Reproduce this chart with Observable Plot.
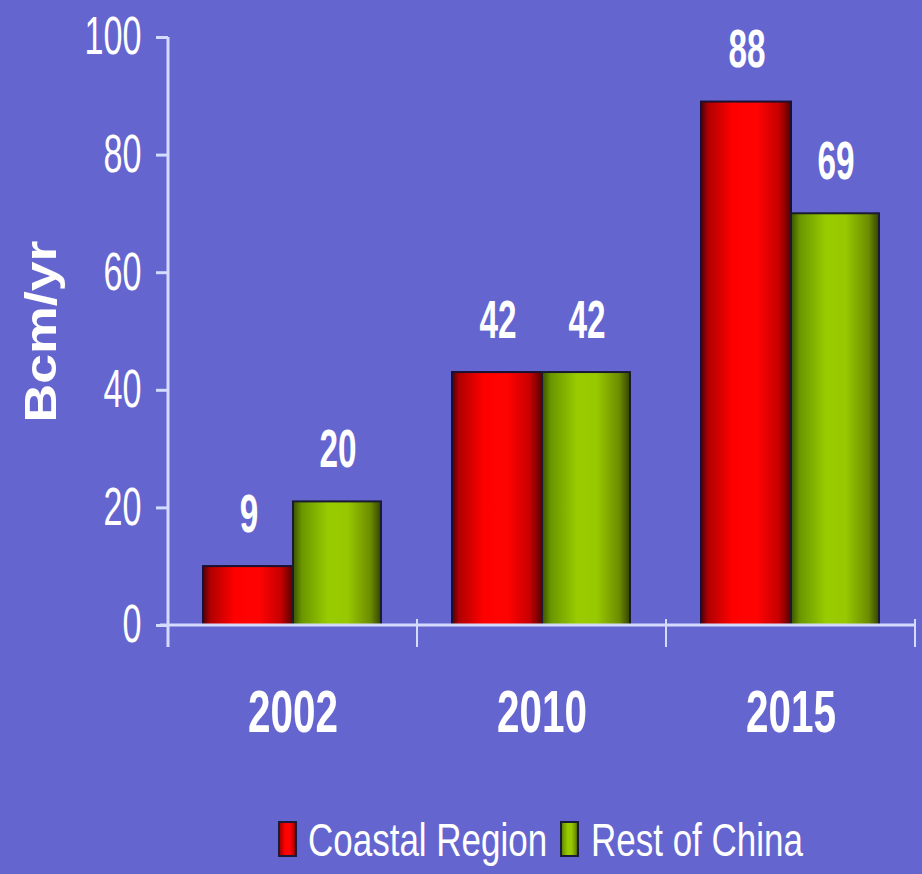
<!DOCTYPE html>
<html>
<head>
<meta charset="utf-8">
<script src="https://cdn.jsdelivr.net/npm/d3@7"></script>
<script src="https://cdn.jsdelivr.net/npm/@observablehq/plot@0.6"></script>
<style>
  html, body { margin: 0; padding: 0; background: #6565d0; }
  #chart { width: 922px; height: 874px; background: #6565d0; color: #ffffff; }
  svg { display: block; }
</style>
</head>
<body>
<div id="chart"></div>
<script>
const years = ["2002", "2010", "2015"];
const coastal = [9, 42, 88];
const restOfChina = [20, 42, 69];
const seriesNames = ["Coastal Region", "Rest of China"];
const yTicks = [0, 20, 40, 60, 80, 100];
const yLabel = "Bcm/yr";

const coastalData = years.map((y, i) => ({year: y, value: coastal[i]}));
const restData = years.map((y, i) => ({year: y, value: restOfChina[i]}));

const FONT = '"Liberation Sans", Arial, sans-serif';

function defsMark() {
  const defs = d3.create("svg:defs");
  const mk = (id, stops) => {
    const g = defs.append("linearGradient").attr("id", id).attr("x1", "0").attr("x2", "1").attr("y1", "0").attr("y2", "0");
    stops.forEach(([o, c]) => g.append("stop").attr("offset", o).attr("stop-color", c));
  };
  mk("gradRed", [["0%", "#4a0010"], ["8%", "#b00000"], ["35%", "#ff0000"], ["62%", "#ff0303"], ["86%", "#c80000"], ["100%", "#5a0000"]]);
  mk("gradGreen", [["0%", "#3a5200"], ["10%", "#6a9600"], ["40%", "#99cc00"], ["62%", "#98c800"], ["88%", "#6c8c00"], ["100%", "#344400"]]);
  return defs.node();
}

function axesMark(index, scales) {
  const g = d3.create("svg:g").attr("stroke", "#d4dbff").attr("stroke-width", 3).attr("fill", "none");
  const x = scales.x, y = scales.y;
  const bw = x.bandwidth ? x.bandwidth() : (x(years[1]) - x(years[0]));
  const x0 = x(years[0]);
  const xEnd = x(years[years.length - 1]) + bw;
  const y0 = y(0), yTop = y(100);
  g.append("line").attr("x1", x0).attr("x2", x0).attr("y1", yTop).attr("y2", y0 + 22);
  g.append("line").attr("x1", x0 - 8).attr("x2", xEnd).attr("y1", y0).attr("y2", y0);
  years.forEach((d) => {
    const xx = x(d) + bw;
    g.append("line").attr("x1", xx).attr("x2", xx).attr("y1", y0 - 6).attr("y2", y0 + 22).attr("stroke-width", 2);
  });
  return g.node();
}

const plot = Plot.plot({
  width: 922,
  height: 800,
  marginTop: 37,
  marginBottom: 175,
  marginLeft: 168,
  marginRight: 7,
  style: {background: "transparent", color: "#ffffff", fontFamily: FONT},
  x: {domain: years, padding: 0, axis: null},
  y: {domain: [0, 100], axis: null},
  marks: [
    defsMark,
    Plot.axisY({ticks: yTicks, tickSize: 12, tickPadding: 15, fontSize: 53, stroke: "#d4dbff", strokeWidth: 3, label: null, fill: "#ffffff"}),
    Plot.axisX({tickSize: 0, tickPadding: 64, fontSize: 60, fontWeight: "bold", label: null, fill: "#ffffff"}),
    Plot.barY(coastalData, {x: "year", y: "value", fill: "url(#gradRed)", stroke: "#1a1030", strokeWidth: 2, insetLeft: 35, insetRight: 124, insetTop: -6}),
    Plot.barY(restData, {x: "year", y: "value", fill: "url(#gradGreen)", stroke: "#1a1a30", strokeWidth: 2, insetLeft: 125, insetRight: 36, insetTop: -6}),
    axesMark,
    Plot.text(coastalData, {x: "year", y: "value", text: d => String(d.value), dx: -44, dy: -58, fontSize: 53, fontWeight: "bold", fill: "#ffffff"}),
    Plot.text(restData, {x: "year", y: "value", text: d => String(d.value), dx: 45, dy: -58, fontSize: 53, fontWeight: "bold", fill: "#ffffff"}),
    Plot.text([yLabel], {frameAnchor: "left", textAnchor: "middle", rotate: -90, dx: -127, fontSize: 45, fontWeight: "bold", fill: "#ffffff"})
  ]
});

// condense glyphs horizontally (the reference uses a tall, narrow typeface)
function condense(sel, lenFor) {
  plot.querySelectorAll(sel).forEach(t => {
    t.setAttribute("textLength", lenFor(t.textContent));
    t.setAttribute("lengthAdjust", "spacingAndGlyphs");
  });
}
condense('g[aria-label="y-axis tick label"] text', s => s.length * 19);
condense('g[aria-label="x-axis tick label"] text', s => s.length * 22.5);
condense('g[aria-label="text"] text', s => s === yLabel ? 182 : s.length * 18.5);

const chart = document.getElementById("chart");
chart.appendChild(plot);

// legend below the chart
const legendSvg = d3.create("svg").attr("width", 922).attr("height", 74);
const legendItems = [
  {swatchX: 279, textX: 308, fill: "url(#gradRed)"},
  {swatchX: 561, textX: 591, fill: "url(#gradGreen)"}
];
seriesNames.forEach((name, i) => {
  const it = legendItems[i];
  legendSvg.append("rect").attr("x", it.swatchX).attr("y", 22).attr("width", 17).attr("height", 34)
    .attr("fill", it.fill).attr("stroke", "#1a1a3a").attr("stroke-width", 2);
  legendSvg.append("text").attr("transform", `translate(${it.textX},56) scale(1,1.32)`).attr("fill", "#ffffff")
    .attr("font-family", FONT).attr("font-size", 35)
    .text(name);
});
chart.appendChild(legendSvg.node());
</script>
</body>
</html>
